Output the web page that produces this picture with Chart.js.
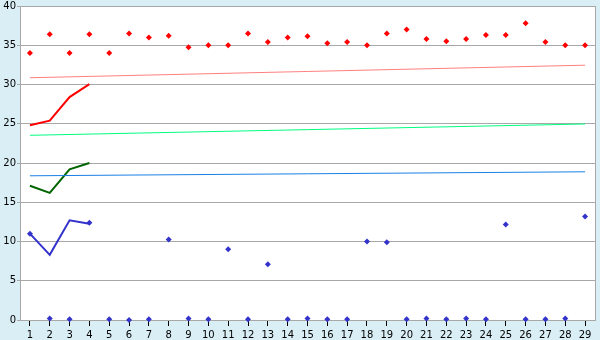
<!DOCTYPE html>
<html>
<head>
<meta charset="utf-8">
<script src="https://cdn.jsdelivr.net/npm/chart.js@4.4.1/dist/chart.umd.min.js"></script>
<style>
  html, body { margin: 0; padding: 0; background: #daeef5; }
  #chart { display: block; }
</style>
</head>
<body>
<canvas id="chart" width="600" height="340"></canvas>
<script>
// categories on the x axis
const categories = ['1', '2', '3', '4', '5', '6', '7', '8', '9', '10', '11', '12', '13', '14', '15',
  '16', '17', '18', '19', '20', '21', '22', '23', '24', '25', '26', '27', '28', '29'];

// scattered diamonds
const redPoints = [34.0, 36.4, 34.0, 36.4, 34.0, 36.5, 36.0, 36.2, 34.75, 35.0, 35.0, 36.5, 35.4, 36.0, 36.15,
  35.25, 35.4, 35.0, 36.5, 37.0, 35.8, 35.5, 35.8, 36.3, 36.3, 37.8, 35.4, 35.0, 35.0];
const bluePoints = [11.0, 0.2, 0.1, 12.4, 0.1, 0.0, 0.1, 10.25, 0.2, 0.1, 9.0, 0.1, 7.1, 0.1, 0.2,
  0.1, 0.1, 10.0, 9.9, 0.1, 0.2, 0.1, 0.2, 0.1, 12.15, 0.1, 0.1, 0.2, 13.2];

// short thick lines (first four categories)
const redLine = [24.8, 25.4, 28.4, 30.05];
const greenLine = [17.1, 16.2, 19.2, 20.0];
const blueLine = [11.0, 8.3, 12.7, 12.25];

// thin trend lines, start and end values
const trendX = ['1', '29'];
const redTrend = [30.86, 32.46];
const greenTrend = [23.53, 24.97];
const blueTrend = [18.37, 18.88];

const yTicks = [0, 5, 10, 15, 20, 25, 30, 35, 40];

function trend(values) {
  return trendX.map((x, i) => ({ x: x, y: values[i] }));
}

function diamonds(label, data, color) {
  return {
    label: label,
    data: data,
    showLine: false,
    pointStyle: 'rectRot',
    pointRadius: 3,
    pointBackgroundColor: color,
    pointBorderColor: color,
    pointBorderWidth: 0,
    clip: false
  };
}

function thickLine(label, data, color) {
  return {
    label: label,
    data: data,
    borderColor: color,
    borderWidth: 2,
    pointRadius: 0,
    tension: 0
  };
}

function thinLine(label, values, color) {
  return {
    label: label,
    data: trend(values),
    borderColor: color,
    borderWidth: 1,
    pointRadius: 0,
    tension: 0
  };
}

// white plot area with a grey frame on the right
const plotArea = {
  id: 'plotArea',
  beforeDraw(chart) {
    const { ctx, chartArea } = chart;
    ctx.save();
    ctx.fillStyle = '#ffffff';
    ctx.fillRect(chartArea.left, chartArea.top, chartArea.right - chartArea.left, chartArea.bottom - chartArea.top);
    ctx.restore();
  },
  afterDraw(chart) {
    const { ctx, chartArea } = chart;
    ctx.save();
    ctx.strokeStyle = '#a8a8a8';
    ctx.lineWidth = 1;
    ctx.beginPath();
    ctx.moveTo(Math.round(chartArea.right) + 0.5, chartArea.top);
    ctx.lineTo(Math.round(chartArea.right) + 0.5, chartArea.bottom);
    ctx.stroke();
    ctx.restore();
  }
};

new Chart(document.getElementById('chart'), {
  type: 'line',
  data: {
    labels: categories,
    datasets: [
      thinLine('Red trend', redTrend, '#ff8080'),
      thinLine('Green trend', greenTrend, '#00ff80'),
      thinLine('Blue trend', blueTrend, '#1a80e6'),
      thickLine('Red', redLine, '#ff0000'),
      thickLine('Green', greenLine, '#006400'),
      thickLine('Blue', blueLine, '#3333cc'),
      diamonds('Red points', redPoints, '#ff0000'),
      diamonds('Blue points', bluePoints, '#3333cc')
    ]
  },
  options: {
    responsive: false,
    animation: false,
    layout: { padding: { top: 6, right: 5, left: 0, bottom: 0 } },
    plugins: {
      legend: { display: false },
      tooltip: { enabled: false }
    },
    scales: {
      x: {
        type: 'category',
        offset: true,
        grid: {
          offset: false,
          drawOnChartArea: false,
          drawTicks: true,
          tickLength: 6,
          color: '#000000'
        },
        border: { color: '#a8a8a8' },
        ticks: {
          color: '#000000',
          font: { family: 'DejaVu Sans', size: 10 },
          padding: 3,
          maxRotation: 0,
          autoSkip: false
        },
        afterFit(scale) { scale.height = 20; }
      },
      y: {
        min: 0,
        max: 40,
        afterBuildTicks(scale) {
          scale.ticks = yTicks.map(v => ({ value: v }));
        },
        grid: {
          color: '#a8a8a8',
          tickLength: 3
        },
        border: { color: '#a8a8a8' },
        ticks: {
          color: '#000000',
          font: { family: 'DejaVu Sans', size: 10 },
          padding: 1
        },
        afterFit(scale) {
          scale.width = 20;
          scale.paddingTop = 0;
          scale.paddingBottom = 0;
        }
      }
    }
  },
  plugins: [plotArea]
});
</script>
</body>
</html>
